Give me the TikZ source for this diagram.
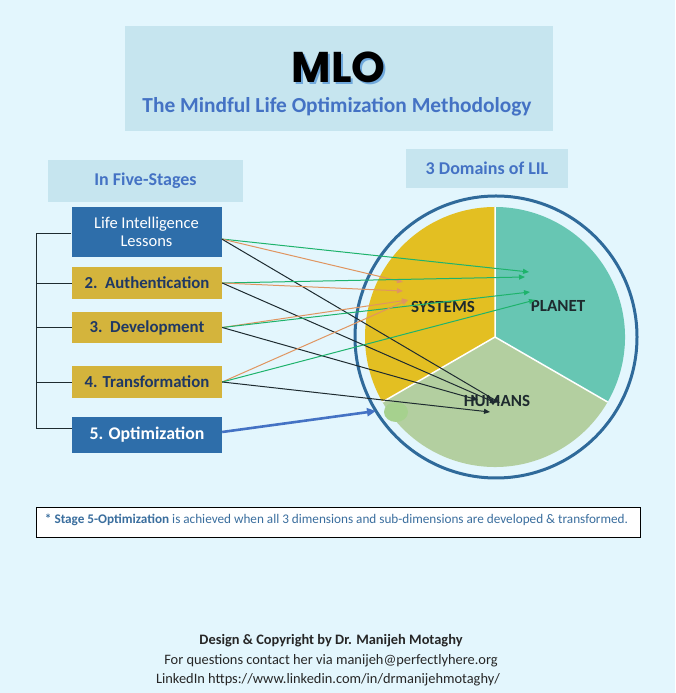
\documentclass[tikz,border=0pt]{standalone}
\usepackage{fontspec}
\setmainfont{Carlito}
\newfontfamily\mlofont{Poppins}
\usetikzlibrary{arrows.meta}
\definecolor{bg}{HTML}{E3F6FD}
\definecolor{tbox}{HTML}{C6E5EF}
\definecolor{dblue}{HTML}{2E6EAA}
\definecolor{mustard}{HTML}{D4B43C}
\definecolor{navy}{HTML}{1F3864}
\definecolor{tblue}{HTML}{4472C4}
\definecolor{shad}{HTML}{6FA8DC}
\definecolor{sysc}{HTML}{E3BF22}
\definecolor{planc}{HTML}{67C6B3}
\definecolor{humc}{HTML}{B3CFA0}
\definecolor{ringc}{HTML}{2F6A9A}
\definecolor{garr}{HTML}{1EB36C}
\definecolor{oarr}{HTML}{E09560}
\definecolor{karr}{HTML}{1E2B30}
\definecolor{blob}{HTML}{A6D18E}
\definecolor{notec}{HTML}{3A6E9E}
\definecolor{domtxt}{HTML}{1E2A2E}
\begin{document}
\begin{tikzpicture}[x=1pt,y=1pt,
  hdr/.style={fill=tbox, text=tblue, inner sep=0pt, font=\bfseries\fontsize{18}{20}\selectfont},
  stagebox/.style={minimum width=150pt, inner sep=0pt, align=center},
  bluebox/.style={stagebox, fill=dblue, text=white},
  goldbox/.style={stagebox, fill=mustard, text=navy, font=\bfseries\fontsize{16.8}{19}\selectfont},
  domlbl/.style={text=domtxt, font=\bfseries\fontsize{17}{19}\selectfont, inner sep=0pt},
  tip/.style={-{Triangle[length=6pt,width=5pt]}, line width=1pt},
  garrow/.style={tip, draw=garr},
  oarrow/.style={tip, draw=oarr},
  karrow/.style={tip, draw=karr},
  brk/.style={draw=karr, line width=0.9pt}
]
\fill[bg] (0,0) rectangle (675,693);
\useasboundingbox (0,0) rectangle (675,693);

% title
\node[fill=tbox, minimum width=428pt, minimum height=105pt, inner sep=0pt] (title) at (339,614.5) {};
\node[text=black, inner sep=0pt, font=\mlofont\bfseries\fontsize{43}{43}\selectfont] (mlo) at (338.5,625) {\makebox[0pt][l]{\hspace{2pt}\raisebox{-2pt}{\color{shad}MLO}}MLO};
\node[text=tblue, inner sep=0pt, font=\bfseries\fontsize{21.4}{25}\selectfont] (sub) at (337,586) {The Mindful Life Optimization Methodology};

% headers
\node[hdr, minimum width=195pt, minimum height=42pt] (five) at (145.5,512) {In Five-Stages};
\node[hdr, minimum width=162pt, minimum height=39pt] (dom) at (487,524.5) {3 Domains of LIL};

% stages
\node[bluebox, minimum height=50pt, font=\fontsize{16.5}{18.5}\selectfont] (s1) at (146.5,461) {Life Intelligence\\Lessons};
\node[goldbox, minimum height=32pt] (s2) at (147,410) {2.\ \ Authentication};
\node[goldbox, minimum height=31pt] (s3) at (147,365.5) {3.\ \ Development};
\node[goldbox, minimum height=32pt] (s4) at (147,311) {4. Transformation};
\node[bluebox, minimum height=36pt, font=\bfseries\fontsize{17.8}{20}\selectfont] (s5) at (147,258) {5. Optimization};

% bracket
\coordinate (b1) at (36,459.7);
\coordinate (b5) at (36,264.7);
\draw[brk] (s1.west |- b1) -- (b1) -- (b5) -- (s5.west |- b5);
\draw[brk] (s2.west) -- (s2.west -| b1);
\draw[brk] (s3.west) -- (s3.west -| b1);
\draw[brk] (s4.west) -- (s4.west -| b1);

% pie
\coordinate (pc) at (495,356);
\fill[sysc] (pc) -- ++(90:130pt) arc[start angle=90, end angle=210, radius=130pt] -- cycle;
\fill[planc] (pc) -- ++(-30:130pt) arc[start angle=-30, end angle=90, radius=130pt] -- cycle;
\fill[humc] (pc) -- ++(210:130pt) arc[start angle=210, end angle=330, radius=130pt] -- cycle;
\draw[white, line width=1.5pt] (pc) -- ++(90:130pt) (pc) -- ++(210:130pt) (pc) -- ++(330:130pt);
\fill[blob] (396,281) ellipse[x radius=12pt, y radius=10pt];
\draw[ringc, line width=3pt] (496,356) circle[radius=141pt];

\node[domlbl] (sys) at (443,386) {SYSTEMS};
\node[domlbl] (plan) at (558,387) {PLANET};
\node[domlbl] (hum) at (497,292) {HUMANS};

% targets
\coordinate (g1) at (529,421);
\coordinate (g2) at (525,416);
\coordinate (g3) at (530,401);
\coordinate (g4) at (535,393);
\coordinate (o1) at (403,411);
\coordinate (o2) at (403,402);
\coordinate (o3) at (408,393);
\coordinate (k1) at (500,290);
\coordinate (k2) at (496,290);
\coordinate (k3) at (478,293);
\coordinate (k4) at (490,281);
\coordinate (bt) at (376,282);

\coordinate (src1) at ([yshift=-7pt]s1.east);
\draw[garrow] (src1) -- (g1);
\draw[oarrow] (src1) -- (o1);
\draw[karrow] (src1) -- (k1);
\draw[garrow] (s2.east) -- (g2);
\draw[oarrow] (s2.east) -- (o2);
\draw[karrow] (s2.east) -- (k2);
\draw[oarrow] (s3.east) -- (o3);
\draw[garrow] (s3.east) -- (g3);
\draw[karrow] (s3.east) -- (k3);
\draw[oarrow] (s4.east) -- (o3);
\draw[garrow] (s4.east) -- (g4);
\draw[karrow] (s4.east) -- (k4);
\draw[draw=tblue, line width=2.6pt, -{Triangle[length=9pt,width=8pt]}] ([yshift=3pt]s5.east) -- (bt);

% note
\node[draw=black, fill=white, line width=0.8pt, minimum width=604pt, minimum height=30pt, inner sep=0pt] (note) at (338,171) {};
\node[text=notec, font=\fontsize{13.2}{15}\selectfont] (notetxt) at (336.5,173.5) {\textbf{* Stage 5-Optimization} is achieved when all 3 dimensions and sub-dimensions are developed \& transformed.};

% footer
\node[text=black!85, font=\bfseries\fontsize{14.4}{16}\selectfont] (f1) at (331,52) {Design \& Copyright by Dr. Manijeh Motaghy};
\node[text=black!85, font=\fontsize{14.4}{16}\selectfont] (f2) at (331,32) {For questions contact her via manijeh@perfectlyhere.org};
\node[text=black!85, font=\fontsize{14.4}{16}\selectfont] (f3) at (328,13) {LinkedIn https://www.linkedin.com/in/drmanijehmotaghy/};
\end{tikzpicture}
\end{document}
